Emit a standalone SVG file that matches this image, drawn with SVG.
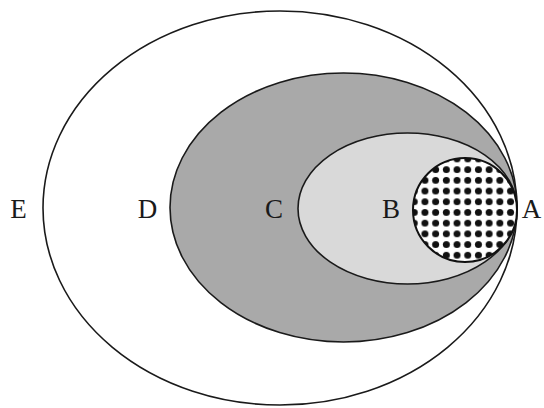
<svg xmlns="http://www.w3.org/2000/svg" width="544" height="408" viewBox="0 0 544 408">
  <style>
    .ring { stroke: #1a1a1a; stroke-width: 1.6; }
    .lbl { font-family: "Liberation Serif", "DejaVu Serif", serif; font-size: 27px; fill: #1a1a1a; text-anchor: middle; }
  </style>
  <defs>
    <pattern id="dots" patternUnits="userSpaceOnUse" x="419.6" y="164.3" width="10.7" height="10.7">
      <rect width="10.7" height="10.7" fill="#ffffff"/>
      <circle cx="5.35" cy="5.35" r="3.5" fill="#111111"/>
    </pattern>
  </defs>
  <rect width="544" height="408" fill="#ffffff"/>
  <g id="E">
    <ellipse class="ring" cx="280" cy="208" rx="237" ry="197" fill="#ffffff"/>
    <text class="lbl" x="18.5" y="218">E</text>
  </g>
  <g id="D">
    <ellipse class="ring" cx="343.5" cy="207.5" rx="173.5" ry="134.5" fill="#a9a9a9"/>
    <text class="lbl" x="147.5" y="218">D</text>
  </g>
  <g id="C">
    <ellipse class="ring" cx="407.5" cy="208.5" rx="109.5" ry="75.5" fill="#d9d9d9"/>
    <text class="lbl" x="274" y="218">C</text>
  </g>
  <g id="B">
    <text class="lbl" x="391" y="218">B</text>
  </g>
  <g id="A">
    <circle cx="465" cy="210" r="52" fill="url(#dots)" stroke="#111111" stroke-width="2"/>
    <text class="lbl" x="531.5" y="218">A</text>
  </g>
  <g id="connectors"/>
</svg>
